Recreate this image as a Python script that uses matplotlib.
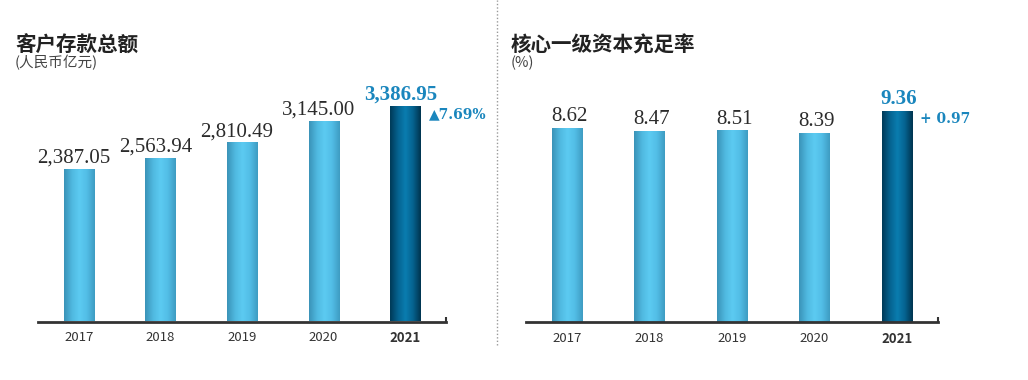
import matplotlib.pyplot as plt
import numpy as np
from matplotlib.colors import LinearSegmentedColormap

plt.rcParams['font.family'] = ['Noto Sans CJK SC', 'DejaVu Sans']

# data
years = ['2017', '2018', '2019', '2020', '2021']
deposits = [2387.05, 2563.94, 2810.49, 3145.00, 3386.95]
deposit_labels = ['2,387.05', '2,563.94', '2,810.49', '3,145.00', '3,386.95']
cet1 = [8.62, 8.47, 8.51, 8.39, 9.36]
cet1_labels = ['8.62', '8.47', '8.51', '8.39', '9.36']

light_cmap = LinearSegmentedColormap.from_list(
    'light', ['#3a93b8', '#4fb8df', '#5ccbf2', '#52bde6', '#3e9cc2'])
dark_cmap = LinearSegmentedColormap.from_list(
    'dark', ['#003a58', '#05628f', '#0a7db0', '#05628f', '#00344f'])
grad = np.linspace(0, 1, 64).reshape(1, -1)

W, H = 1028, 380
fig = plt.figure(figsize=(W / 100, H / 100), dpi=100)
SERIF = ['Liberation Serif', 'DejaVu Serif']


def panel(x0, x1, base, top, values, labels, ymax, title, unit, tx, delta,
          dx_px, delta_dy_px):
    ax = fig.add_axes([x0 / W, (H - base) / H, (x1 - x0) / W, (base - top) / H])
    bw = 0.37
    xpx = (x1 - x0) / 5.0          # pixels per category
    ypx = ymax / (base - top)      # data units per pixel
    dx = dx_px / xpx
    for i, v in enumerate(values):
        cmap = dark_cmap if i == len(values) - 1 else light_cmap
        ax.imshow(grad, cmap=cmap, extent=[i - bw / 2, i + bw / 2, 0, v],
                  aspect='auto', interpolation='bicubic', zorder=2)
        if i == len(values) - 1:
            ax.text(i + dx, v + 2 * ypx, labels[i], ha='center', va='bottom',
                    fontsize=15, fontweight='bold', color='#1a86bd',
                    family=SERIF)
        else:
            ax.text(i + dx, v + 2 * ypx, labels[i], ha='center', va='bottom',
                    fontsize=15, color='#2b2b2b', family=SERIF)
    ax.text(len(values) - 1 + bw / 2 + 0.1, values[-1] - delta_dy_px * ypx,
            delta, ha='left', va='center', fontsize=10, fontweight='bold',
            color='#1a86bd', family=['DejaVu Serif'])
    ax.set_xlim(-0.5, 4.5)
    ax.set_ylim(0, ymax)
    for s in ['top', 'right', 'left']:
        ax.spines[s].set_visible(False)
    ax.spines['bottom'].set_linewidth(2)
    ax.spines['bottom'].set_color('#333333')
    ax.plot([4.5, 4.5], [0, 5 * ypx], color='#333333', lw=1.5,
            clip_on=False, solid_capstyle='butt')
    ax.set_yticks([])
    ax.set_xticks(range(len(years)))
    ax.set_xticklabels(years, fontsize=9.5, color='#333333')
    ax.get_xticklabels()[-1].set_fontweight('bold')
    ax.tick_params(axis='x', length=0, pad=7)
    fig.text(tx / W, 1 - 45 / H, title, fontsize=14.8, fontweight='bold',
             color='#222222', ha='left', va='center')
    fig.text(tx / W, 1 - 63 / H, unit, fontsize=10.5, style='italic',
             color='#444444', ha='left', va='center')


panel(38, 446, 321.5, 60, deposits, deposit_labels, (321.5 - 60) / 0.06346,
      '客户存款总额', '(人民币亿元)', 15, '▲7.69%', -5, 8)
panel(526, 938, 322, 60, cet1, cet1_labels, (322 - 60) / 22.5,
      '核心一级资本充足率', '(%)', 511, '+ 0.97', 2, 8)

# dotted divider
fig.add_artist(plt.Line2D([497 / W, 497 / W], [1 - 345 / H, 1.0],
                          color='#999999', lw=1, linestyle=(0, (1, 1.5))))

fig.savefig('out.png', dpi=100)
